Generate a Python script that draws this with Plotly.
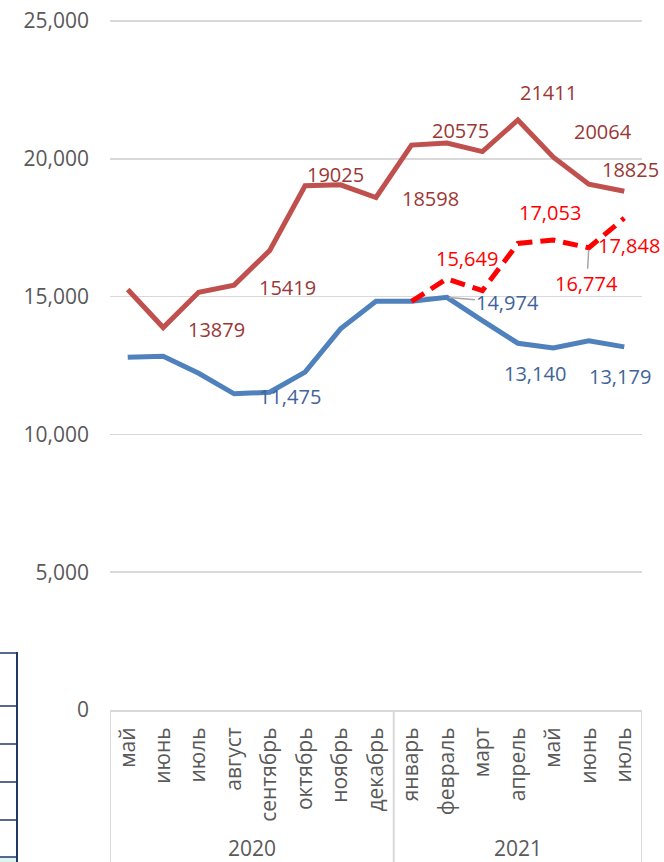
import plotly.graph_objects as go

# ---- data ----
months = ["май", "июнь", "июль", "август", "сентябрь", "октябрь", "ноябрь", "декабрь",
          "январь", "февраль", "март", "апрель", "май", "июнь", "июль"]
years = ["2020", "2021"]
year_spans = [(0, 7), (8, 14)]

red_vals = [15260, 13879, 15160, 15419, 16670, 19025, 19060, 18598,
            20500, 20575, 20265, 21411, 20064, 19080, 18825]
blue_vals = [12800, 12840, 12220, 11475, 11530, 12260, 13830, 14830,
             14830, 14974, 14130, 13310, 13140, 13400, 13179]
dash_vals = [None, None, None, None, None, None, None, None,
             14830, 15649, 15220, 16930, 17053, 16774, 17848]

# labels shown
red_labels = {1: "13879", 3: "15419", 5: "19025", 7: "18598", 9: "20575",
              11: "21411", 12: "20064", 14: "18825"}
blue_labels = {3: "11,475", 9: "14,974", 12: "13,140", 14: "13,179"}
dash_labels = {9: "15,649", 12: "17,053", 13: "16,774", 14: "17,848"}

y_ticks = [0, 5000, 10000, 15000, 20000, 25000]

# ---- style ----
RED = "#C0504D"
BLUE = "#4F81BD"
RED_TXT = "#9A3836"
BLUE_TXT = "#3F649A"
DASH = "#FF0000"
GRID = "#D9D9D9"
AX_TXT = "#595959"
FONT = "Open Sans"

x_idx = list(range(len(months)))

fig = go.Figure()
fig.add_trace(go.Scatter(x=x_idx, y=red_vals, mode="lines",
                         line=dict(color=RED, width=5), hoverinfo="skip"))
fig.add_trace(go.Scatter(x=x_idx, y=blue_vals, mode="lines",
                         line=dict(color=BLUE, width=5), hoverinfo="skip"))
fig.add_trace(go.Scatter(x=x_idx, y=dash_vals, mode="lines",
                         line=dict(color=DASH, width=5, dash="15px,8px"),
                         hoverinfo="skip"))

# label offsets (pixels) relative to the point
red_off = {1: (53, -2), 3: (53, -2), 5: (30, 11), 7: (54, -1), 9: (14, 13),
           11: (31, 28), 12: (50, 26), 14: (6, 22)}
blue_off = {3: (56, -3), 9: (61, -5), 12: (-18, -26), 14: (-4, -30)}
dash_off = {9: (20, 20), 12: (-3, 28), 13: (-2, -36), 14: (5, -27)}
leader = {("blue", 9), ("dash", 13)}

annotations = []


def add_labels(name, vals, labels, offs, color):
    for i, txt in labels.items():
        dx, dy = offs[i]
        if (name, i) in leader:
            annotations.append(dict(
                x=i, y=vals[i], xref="x", yref="y", text=txt, showarrow=True,
                ax=dx, ay=-dy, arrowhead=0, arrowwidth=1.5, arrowcolor="#A6A6A6",
                standoff=2, font=dict(family=FONT, size=20, color=color)))
        else:
            annotations.append(dict(
                x=i, y=vals[i], xref="x", yref="y", text=txt, showarrow=False,
                xshift=dx, yshift=dy, font=dict(family=FONT, size=20, color=color)))


add_labels("red", red_vals, red_labels, red_off, RED_TXT)
add_labels("blue", blue_vals, blue_labels, blue_off, BLUE_TXT)
add_labels("dash", dash_vals, dash_labels, dash_off, DASH)

# year labels
for yr, (a, b) in zip(years, year_spans):
    annotations.append(dict(x=(a + b) / 2, y=-0.2, xref="x", yref="paper", text=yr,
                            showarrow=False, yanchor="middle",
                            font=dict(family=FONT, size=21, color=AX_TXT)))

shapes = []
# category group dividers
bounds = [year_spans[0][0] - 0.5] + [b + 0.5 for _, b in year_spans]
for bx in bounds:
    shapes.append(dict(type="line", xref="x", yref="paper", x0=bx, x1=bx,
                       y0=0, y1=-0.225, line=dict(color=GRID, width=2)))

# fragment of a neighbouring table at the left edge
L, W, T, H = 110, 532, 20, 690


def px(xp):
    return (xp - L) / W


def py(yp):
    return (T + H - yp) / H


TBL = "#1F3864"
shapes.append(dict(type="rect", xref="paper", yref="paper", x0=px(0), x1=px(16.5),
                   y0=py(857), y1=py(864), fillcolor="#DDF3F5", line=dict(width=0)))
shapes.append(dict(type="line", xref="paper", yref="paper", x0=px(17), x1=px(17),
                   y0=py(652), y1=py(864), line=dict(color=TBL, width=2)))
for yy in [653, 706, 744, 782, 820, 857]:
    shapes.append(dict(type="line", xref="paper", yref="paper", x0=px(-2), x1=px(17),
                       y0=py(yy), y1=py(yy), line=dict(color=TBL, width=1.5)))

fig.update_layout(
    width=664, height=862,
    margin=dict(l=L, r=664 - L - W, t=T, b=862 - T - H, autoexpand=False),
    paper_bgcolor="white", plot_bgcolor="white",
    showlegend=False,
    annotations=annotations,
    shapes=shapes,
    font=dict(family=FONT, color=AX_TXT),
)
fig.update_xaxes(
    range=[-0.5, len(months) - 0.5], tickmode="array", tickvals=x_idx, ticktext=months,
    tickangle=-90, showgrid=False, zeroline=False, showline=True, linecolor=GRID,
    linewidth=2, ticks="", ticklabelstandoff=7, automargin=False,
    tickfont=dict(family=FONT, size=21, color=AX_TXT),
)
fig.update_yaxes(
    range=[0, 25040], tickvals=y_ticks,
    tickformat=",d", showgrid=True, gridcolor=GRID, gridwidth=1.5, zeroline=False,
    showline=False, ticks="", ticklabelstandoff=20, automargin=False,
    tickfont=dict(family=FONT, size=21, color=AX_TXT),
)

fig.write_html("out.html",
               config={"displayModeBar": False, "staticPlot": True},
               post_script="document.body.style.margin='0';"
                           "document.body.style.overflow='hidden';")
